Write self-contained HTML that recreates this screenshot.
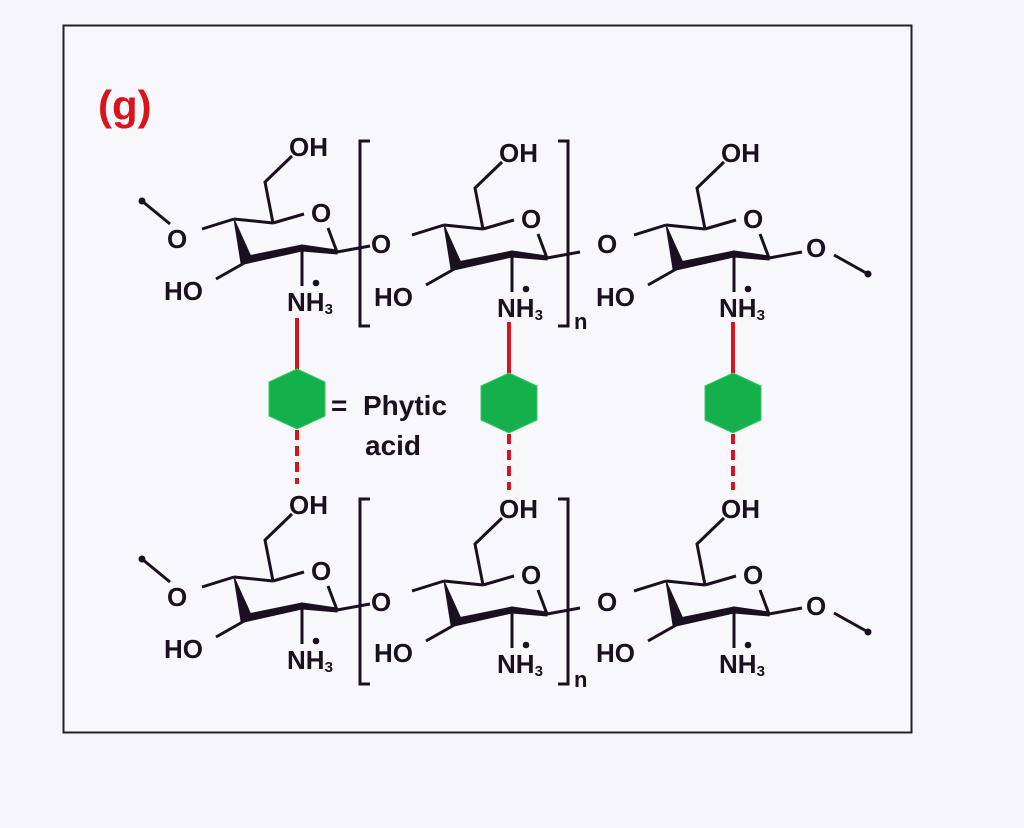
<!DOCTYPE html>
<html><head><meta charset="utf-8"><style>
html,body{margin:0;padding:0;background:#f6f6fa;}
svg{display:block}
text{font-family:"Liberation Sans",sans-serif;font-weight:bold;fill:#1a1020}
</style></head><body>
<svg width="1024" height="828" viewBox="0 0 1024 828" xmlns="http://www.w3.org/2000/svg">
<rect x="0" y="0" width="1024" height="828" fill="#f6f6fa"/>
<rect x="63.5" y="25.5" width="848" height="707" fill="#f8f8fc" stroke="#222" stroke-width="2"/>
<text x="98" y="120" font-size="42" style="fill:#d8141c">(g)</text>

<defs>
<g id="ring" stroke="#1a1020" fill="none" stroke-width="3">
  <line x1="202" y1="229" x2="234" y2="219"/>
  <line x1="234" y1="219" x2="273" y2="223"/>
  <line x1="273" y1="223" x2="304" y2="214"/>
  <polyline points="273,223 265,182 292,156"/>
  <line x1="328" y1="228" x2="337" y2="252"/>
  <line x1="337" y1="252" x2="370" y2="246"/>
  <polygon points="234,219 241,263 252,259" fill="#1a1020" stroke-width="1"/>
  <polygon points="244,264 302,251 302,245 248,256" fill="#1a1020" stroke-width="1"/>
  <polygon points="302,251 337,254 337,250 302,245" fill="#1a1020" stroke-width="1"/>
  <line x1="246" y1="262" x2="216" y2="279"/>
  <line x1="302" y1="248" x2="302" y2="286"/>
  <circle cx="316" cy="283" r="1.8" fill="#1a1020"/>
</g>
</defs>

<g font-size="26">
<g transform="translate(0,0)">
  <use href="#ring"/>
  <text x="289" y="156">OH</text><text x="311" y="222">O</text>
  <text x="167" y="248">O</text><text x="371" y="253">O</text>
  <text x="164" y="300">HO</text><text x="287" y="311">NH<tspan font-size="15" dy="3">3</tspan></text>
</g>
<g transform="translate(210,6)">
  <use href="#ring"/>
  <text x="289" y="156">OH</text><text x="311" y="222">O</text>
  <text x="164" y="300">HO</text><text x="287" y="311">NH<tspan font-size="15" dy="3">3</tspan></text>
</g>
<g transform="translate(432,6)">
  <use href="#ring"/>
  <text x="289" y="156">OH</text><text x="311" y="222">O</text>
  <text x="164" y="300">HO</text><text x="287" y="311">NH<tspan font-size="15" dy="3">3</tspan></text>
</g>
<text x="597" y="253">O</text>
<text x="806" y="257">O</text>
<g transform="translate(0,358)">
  <use href="#ring"/>
  <text x="289" y="156">OH</text><text x="311" y="222">O</text>
  <text x="167" y="248">O</text><text x="371" y="253">O</text>
  <text x="164" y="300">HO</text><text x="287" y="311">NH<tspan font-size="15" dy="3">3</tspan></text>
</g>
<g transform="translate(210,362)">
  <use href="#ring"/>
  <text x="289" y="156">OH</text><text x="311" y="222">O</text>
  <text x="164" y="300">HO</text><text x="287" y="311">NH<tspan font-size="15" dy="3">3</tspan></text>
</g>
<g transform="translate(432,362)">
  <use href="#ring"/>
  <text x="289" y="156">OH</text><text x="311" y="222">O</text>
  <text x="164" y="300">HO</text><text x="287" y="311">NH<tspan font-size="15" dy="3">3</tspan></text>
</g>
<text x="597" y="611">O</text>
<text x="806" y="615">O</text>
</g>

<g stroke="#1a1020" stroke-width="3" fill="none">
  <line x1="142" y1="201" x2="170" y2="224"/>
  <line x1="834" y1="255" x2="868" y2="274"/>
  <line x1="142" y1="559" x2="170" y2="582"/>
  <line x1="834" y1="613" x2="868" y2="632"/>
  <polyline points="370,141 360,141 360,326 370,326"/>
  <polyline points="558,141 568,141 568,326 558,326"/>
  <polyline points="370,499 360,499 360,684 370,684"/>
  <polyline points="558,499 568,499 568,684 558,684"/>
</g>
<g fill="#1a1020">
  <circle cx="142" cy="201" r="3.5"/><circle cx="868" cy="274" r="3.5"/>
  <circle cx="142" cy="559" r="3.5"/><circle cx="868" cy="632" r="3.5"/>
</g>
<text x="574" y="329" font-size="22">n</text>
<text x="574" y="687" font-size="22">n</text>

<g stroke="#d8141c" stroke-width="4">
  <line x1="297" y1="318" x2="297" y2="370"/>
  <line x1="509" y1="322" x2="509" y2="374"/>
  <line x1="733" y1="322" x2="733" y2="374"/>
  <line x1="297" y1="430" x2="297" y2="484" stroke-dasharray="10,6"/>
  <line x1="509" y1="434" x2="509" y2="490" stroke-dasharray="10,6"/>
  <line x1="733" y1="434" x2="733" y2="490" stroke-dasharray="10,6"/>
</g>
<g fill="#14b04c" stroke="#36c860" stroke-width="1">
  <polygon points="297,369 325,382 325,416 297,429 269,416 269,382"/>
  <polygon points="509,373 537,386 537,420 509,433 481,420 481,386"/>
  <polygon points="733,373 761,386 761,420 733,433 705,420 705,386"/>
</g>
<text x="331" y="415" font-size="28">=</text>
<text x="363" y="415" font-size="28">Phytic</text>
<text x="365" y="455" font-size="28">acid</text>
</svg>
</body></html>
